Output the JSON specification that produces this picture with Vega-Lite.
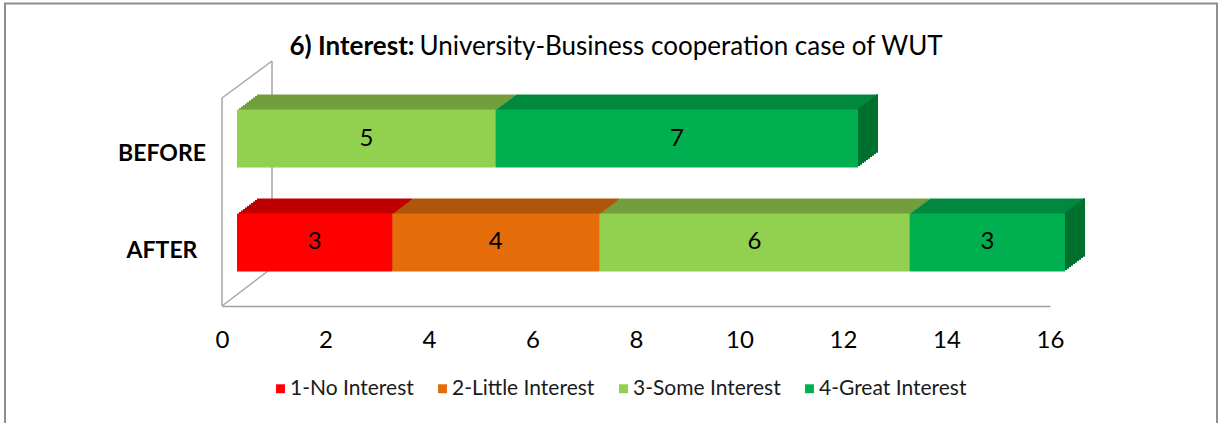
{
  "$schema": "https://vega.github.io/schema/vega-lite/v6.json",
  "width": 828,
  "height": 208,
  "autosize": {"type": "none"},
  "padding": {"left": 222, "top": 98, "right": 171, "bottom": 117},
  "background": "#ffffff",
  "config": {
    "font": "Lato",
    "view": {"stroke": null},
    "axisX": {"domainColor": "#A0A0A0", "domainWidth": 1.5, "ticks": false, "tickSize": 0, "grid": false, "labelFontSize": 24, "labelColor": "#000000", "labelPadding": 22, "labelFlush": false}
  },
  "layer": [
    {
      "data": {"values": [{}]},
      "layer": [
        {
          "mark": {"type": "rect", "filled": false, "color": "#8E8E8E", "strokeWidth": 2},
          "encoding": {
            "x": {"datum": -4.193, "type": "quantitative", "title": null, "scale": {"domain": [0, 16], "nice": false, "zero": false}},
            "x2": {"datum": 19.227},
            "y": {"datum": 1.4543, "type": "quantitative", "scale": {"domain": [0, 1], "nice": false, "zero": false}, "axis": null},
            "y2": {"datum": -0.7}
          }
        },
        {
          "mark": {"type": "rule", "color": "#A6A6A6", "strokeWidth": 1.5},
          "encoding": {
            "x": {"datum": 0, "type": "quantitative", "title": null},
            "y": {"datum": 0, "type": "quantitative", "axis": null},
            "y2": {"datum": 1}
          }
        },
        {
          "mark": {"type": "rule", "color": "#A6A6A6", "strokeWidth": 1.5, "x2Offset": 50, "y2Offset": -37},
          "encoding": {
            "x": {"datum": 0, "type": "quantitative", "title": null},
            "x2": {"datum": 0},
            "y": {"datum": 1, "type": "quantitative", "axis": null},
            "y2": {"datum": 1}
          }
        },
        {
          "mark": {"type": "rule", "color": "#A6A6A6", "strokeWidth": 1.5, "xOffset": 50, "x2Offset": 50, "yOffset": -37, "y2Offset": -38},
          "encoding": {
            "x": {"datum": 0, "type": "quantitative", "title": null},
            "x2": {"datum": 0},
            "y": {"datum": 1, "type": "quantitative", "axis": null},
            "y2": {"datum": 0}
          }
        },
        {
          "mark": {"type": "rule", "color": "#A6A6A6", "strokeWidth": 1.5, "x2Offset": 50, "y2Offset": -38},
          "encoding": {
            "x": {"datum": 0, "type": "quantitative", "title": null},
            "x2": {"datum": 0},
            "y": {"datum": 0, "type": "quantitative", "axis": null},
            "y2": {"datum": 0}
          }
        },
        {
          "mark": {"type": "text", "align": "right", "baseline": "middle", "fontSize": 26, "fontWeight": "bold", "color": "#000000"},
          "encoding": {
            "x": {"datum": 3.72, "type": "quantitative", "title": null},
            "y": {"datum": 1.245, "type": "quantitative", "axis": null},
            "text": {"value": "6) Interest:"}
          }
        },
        {
          "mark": {"type": "text", "align": "left", "baseline": "middle", "fontSize": 26, "fontWeight": "normal", "color": "#000000", "dx": 5},
          "encoding": {
            "x": {"datum": 3.72, "type": "quantitative", "title": null},
            "y": {"datum": 1.245, "type": "quantitative", "axis": null},
            "text": {"value": "University-Business cooperation case of WUT"}
          }
        }
      ]
    },
    {
      "data": {
        "values": [
          {"group": "BEFORE", "category": "3-Some Interest", "value": 5},
          {"group": "BEFORE", "category": "4-Great Interest", "value": 7},
          {"group": "AFTER", "category": "1-No Interest", "value": 3},
          {"group": "AFTER", "category": "2-Little Interest", "value": 4},
          {"group": "AFTER", "category": "3-Some Interest", "value": 6},
          {"group": "AFTER", "category": "4-Great Interest", "value": 3}
        ]
      },
      "transform": [
        {"stack": "value", "groupby": ["group"], "sort": [{"field": "category", "order": "ascending"}], "as": ["v0", "v1"]}
      ],
      "encoding": {
        "y": {
          "field": "group", "type": "nominal", "title": null,
          "scale": {"domain": ["BEFORE", "AFTER"], "range": [11.5, 173.5], "paddingInner": 0.4423, "paddingOuter": 0},
          "axis": {
            "domain": false, "ticks": false, "tickSize": 0, "labelAlign": "center", "labelBaseline": "middle",
            "labelPadding": 60.5, "labelFontSize": 23, "labelFontWeight": "bold", "labelColor": "#000000",
            "labelOffset": {"condition": {"test": "datum.value === 'BEFORE'", "value": 15}, "value": 9}
          }
        }
      },
      "layer": [
        {
          "encoding": {
            "x": {"field": "v0", "type": "quantitative", "title": null, "scale": {"domain": [0, 16], "nice": false, "zero": false}},
            "x2": {"field": "v1"},
            "fill": {
              "field": "category", "type": "nominal", "legend": null,
              "scale": {"domain": ["4-Great Interest", "3-Some Interest", "2-Little Interest", "1-No Interest"], "range": ["#00883E", "#739E3E", "#B0560A", "#C00000"]}
            }
          },
          "layer": [
            {"mark": {"type": "bar", "xOffset": 35, "x2Offset": 35, "yOffset": -15, "y2Offset": -15}},
            {"mark": {"type": "bar", "xOffset": 33, "x2Offset": 33, "yOffset": -13.5, "y2Offset": -13.5}},
            {"mark": {"type": "bar", "xOffset": 31, "x2Offset": 31, "yOffset": -12, "y2Offset": -12}},
            {"mark": {"type": "bar", "xOffset": 29, "x2Offset": 29, "yOffset": -10.5, "y2Offset": -10.5}},
            {"mark": {"type": "bar", "xOffset": 27, "x2Offset": 27, "yOffset": -9, "y2Offset": -9}},
            {"mark": {"type": "bar", "xOffset": 25, "x2Offset": 25, "yOffset": -7.5, "y2Offset": -7.5}},
            {"mark": {"type": "bar", "xOffset": 23, "x2Offset": 23, "yOffset": -6, "y2Offset": -6}},
            {"mark": {"type": "bar", "xOffset": 21, "x2Offset": 21, "yOffset": -4.5, "y2Offset": -4.5}},
            {"mark": {"type": "bar", "xOffset": 19, "x2Offset": 19, "yOffset": -3, "y2Offset": -3}},
            {"mark": {"type": "bar", "xOffset": 17, "x2Offset": 17, "yOffset": -1.5, "y2Offset": -1.5}}
          ]
        },
        {
          "transform": [
            {"joinaggregate": [{"op": "max", "field": "v1", "as": "total"}], "groupby": ["group"]},
            {"filter": "datum.v1 === datum.total"}
          ],
          "encoding": {
            "x": {"field": "v1", "type": "quantitative", "title": null, "scale": {"domain": [0, 16], "nice": false, "zero": false}},
            "x2": {"field": "v1"}
          },
          "layer": [
            {"mark": {"type": "bar", "color": "#00702F", "xOffset": 15, "x2Offset": 17, "yOffset": -1.5, "y2Offset": -1.5}},
            {"mark": {"type": "bar", "color": "#00702F", "xOffset": 17, "x2Offset": 19, "yOffset": -3, "y2Offset": -3}},
            {"mark": {"type": "bar", "color": "#00702F", "xOffset": 19, "x2Offset": 21, "yOffset": -4.5, "y2Offset": -4.5}},
            {"mark": {"type": "bar", "color": "#00702F", "xOffset": 21, "x2Offset": 23, "yOffset": -6, "y2Offset": -6}},
            {"mark": {"type": "bar", "color": "#00702F", "xOffset": 23, "x2Offset": 25, "yOffset": -7.5, "y2Offset": -7.5}},
            {"mark": {"type": "bar", "color": "#00702F", "xOffset": 25, "x2Offset": 27, "yOffset": -9, "y2Offset": -9}},
            {"mark": {"type": "bar", "color": "#00702F", "xOffset": 27, "x2Offset": 29, "yOffset": -10.5, "y2Offset": -10.5}},
            {"mark": {"type": "bar", "color": "#00702F", "xOffset": 29, "x2Offset": 31, "yOffset": -12, "y2Offset": -12}},
            {"mark": {"type": "bar", "color": "#00702F", "xOffset": 31, "x2Offset": 33, "yOffset": -13.5, "y2Offset": -13.5}},
            {"mark": {"type": "bar", "color": "#00702F", "xOffset": 33, "x2Offset": 35, "yOffset": -15, "y2Offset": -15}}
          ]
        },
        {
          "mark": {"type": "bar", "xOffset": 15, "x2Offset": 15},
          "encoding": {
            "x": {"field": "v0", "type": "quantitative", "title": null, "scale": {"domain": [0, 16], "nice": false, "zero": false}, "axis": {"values": [0, 2, 4, 6, 8, 10, 12, 14, 16]}},
            "x2": {"field": "v1"},
            "color": {
              "field": "category", "type": "nominal",
              "scale": {"domain": ["1-No Interest", "2-Little Interest", "3-Some Interest", "4-Great Interest"], "range": ["#FF0000", "#E46C0A", "#92D050", "#00B050"]},
              "legend": {
                "title": null, "orient": "none", "direction": "horizontal", "legendX": 48, "legendY": 280, "padding": 0,
                "symbolType": "square", "symbolSize": 80, "symbolStrokeWidth": 0, "labelFontSize": 21, "labelColor": "#1A1A1A",
                "labelOffset": -1, "columnPadding": 18
              }
            }
          }
        },
        {
          "transform": [{"calculate": "(datum.v0 + datum.v1) / 2", "as": "mid"}],
          "mark": {"type": "text", "dx": 15, "baseline": "middle", "fontSize": 24, "color": "#000000"},
          "encoding": {
            "x": {"field": "mid", "type": "quantitative", "title": null, "scale": {"domain": [0, 16], "nice": false, "zero": false}},
            "text": {"field": "value", "type": "quantitative"}
          }
        }
      ]
    }
  ],
  "resolve": {"scale": {"y": "independent"}}
}
